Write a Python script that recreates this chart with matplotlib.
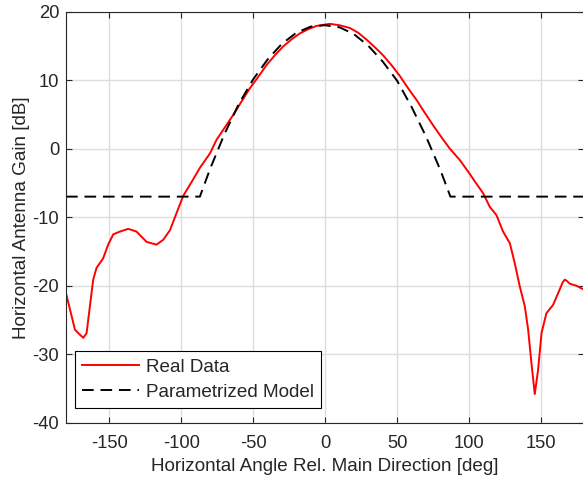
import numpy as np
import matplotlib.pyplot as plt

plt.rcParams['font.family'] = ['Liberation Sans', 'DejaVu Sans']
plt.rcParams['axes.unicode_minus'] = False

real_angle = [-180, -176, -173.8, -171.5, -168, -165.7, -163.4, -161.1, -158.8, -154.2,
              -150.7, -147.2, -142.6, -136.8, -131, -124, -117.1, -112.5, -107.8, -103.2,
              -98.6, -92, -87, -80, -75.4, -69, -63.9, -58, -52.3, -46,
              -40.7, -35, -29.2, -23, -17.6, -12, -6, 0, 3.3, 10,
              17.2, 23, 28.8, 34, 40.3, 46, 51.9, 57, 63.5, 69,
              75, 81, 86.6, 93.5, 100.5, 104, 107.4, 109.7, 114.4, 119,
              123.6, 128.3, 131.7, 135.2, 138.7, 141, 143.3, 145.6, 147.9, 150.3,
              153.7, 158.3, 161.8, 165, 166.5, 168, 169.9, 174.6, 180]
real_gain = [-21.1, -24.5, -26.4, -26.9, -27.6, -26.9, -23.0, -19.1, -17.4, -16.0,
             -14.0, -12.5, -12.1, -11.7, -12.1, -13.6, -14.0, -13.3, -11.9, -9.4,
             -6.9, -4.6, -2.8, -0.7, 1.3, 3.3, 4.9, 6.9, 8.8, 10.6,
             12.2, 13.6, 14.9, 16.0, 16.8, 17.4, 17.9, 18.1, 18.2, 18.0,
             17.6, 16.9, 15.9, 14.9, 13.6, 12.2, 10.6, 9.0, 7.1, 5.3,
             3.4, 1.6, 0.0, -1.65, -3.7, -4.8, -5.8, -6.5, -8.5, -9.7,
             -12.1, -13.8, -16.7, -20.1, -23.0, -26.4, -31.3, -35.8, -32.3, -26.9,
             -24.0, -22.8, -21.1, -19.5, -19.1, -19.3, -19.7, -20.0, -20.6]

# parametrized model
model_angle = [-180, -87, -80, -70, -60, -50, -40, -30, -20, -10, 0,
               10, 20, 30, 40, 50, 60, 70, 80, 87, 180]
model_gain = [-7, -7, -3.0, 2.1, 6.5, 10.1, 13.0, 15.3, 16.9, 17.8, 18.0,
              17.7, 16.7, 15.0, 12.7, 9.9, 6.1, 1.8, -3.1, -7, -7]

fig = plt.figure(figsize=(5.83, 4.8), dpi=100)
ax = fig.add_axes([0.1132, 0.119, 0.889, 0.857])

ax.plot(real_angle, real_gain, color='red', lw=1.4, label='Real Data')
ax.plot(model_angle, model_gain, color='black', lw=1.4, dashes=(6, 3.5),
        label='Parametrized Model')

ax.set_xlim(-180, 180)
ax.set_ylim(-40, 20)
ax.set_xticks([-150, -100, -50, 0, 50, 100, 150])
ax.set_yticks([-40, -30, -20, -10, 0, 10, 20])
ax.grid(True, color='#dedede', lw=1)
ax.set_axisbelow(True)
ax.tick_params(direction='in', top=True, right=True, labelsize=13.2,
               color='#262626', labelcolor='#262626', length=4, pad=5)
ax.tick_params(axis='x', pad=9)
for s in ax.spines.values():
    s.set_color('#262626')
ax.set_xlabel('Horizontal Angle Rel. Main Direction [deg]', fontsize=13.6, color='#262626', labelpad=4)
ax.set_ylabel('Horizontal Antenna Gain [dB]', fontsize=13.6, color='#262626', labelpad=2)

leg = ax.legend(loc='lower left', bbox_to_anchor=(0.017, 0.036), fontsize=13.6,
                handlelength=3.0, handletextpad=0.35, borderpad=0.4,
                labelspacing=0.4, fancybox=False, framealpha=1,
                edgecolor='black', borderaxespad=0)
leg.get_frame().set_linewidth(0.8)
for t in leg.get_texts():
    t.set_color('#262626')

fig.savefig('out.png', dpi=100)
